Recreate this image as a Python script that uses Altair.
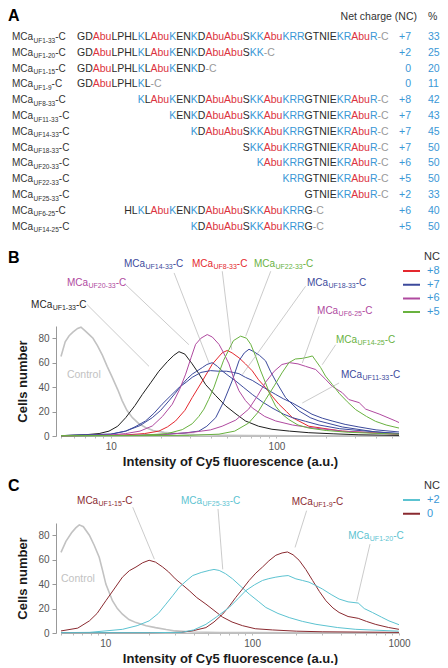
import math
import altair as alt
import pandas as pd

FONT = "Liberation Sans"

# ---------------- Panel A data ----------------
RESIDUES = ["G", "D", "Abu", "L", "P", "H", "L", "K", "L", "Abu", "K", "E", "N", "K", "D",
            "Abu", "Abu", "S", "K", "K", "Abu", "K", "R", "R", "G", "T", "N", "I", "E", "K",
            "R", "Abu", "R"]
PEPTIDES = ["UF1-33", "UF1-20", "UF1-15", "UF1-9", "UF8-33", "UF11-33", "UF14-33", "UF18-33",
            "UF20-33", "UF22-33", "UF25-33", "UF6-25", "UF14-25"]
STARTS = [1, 1, 1, 1, 8, 11, 14, 18, 20, 22, 25, 6, 14]
ENDS = [33, 20, 15, 9, 33, 33, 33, 33, 33, 33, 33, 25, 25]
NET_CHARGE = ["+7", "+2", "0", "0", "+8", "+7", "+7", "+7", "+6", "+5", "+2", "+6", "+5"]
PERCENT = ["33", "25", "20", "11", "42", "43", "45", "50", "50", "50", "33", "40", "50"]

# ---------------- Panel B curves ----------------
B_CONTROL_X = [5.0, 5.3, 5.6, 5.9, 6.3, 6.6, 7.0, 7.4, 7.8, 8.3, 8.9, 9.5, 10.2, 11.0, 11.7, 12.5,
               13.5, 14.8, 16.2, 18, 21, 25, 32, 45, 70, 120, 250, 550]
B_CONTROL_Y = [65, 77, 82, 85, 88, 89, 86, 83, 80, 74, 66, 57, 48, 38, 29, 21, 15, 10, 7, 4.5, 3,
               2, 1.2, 0.6, 0.3, 0.2, 0.1, 0.1]
B_UF1_33_X = [5, 7, 8.5, 9.75, 11, 12.3, 14, 15.5, 17.5, 19.5, 22, 24, 25.8, 28, 31, 34, 37.4, 43,
              49.4, 57, 65, 78, 94, 120, 157, 220, 315, 550]
B_UF1_33_Y = [0.3, 1, 2, 4, 8, 15, 25, 34, 44, 53, 61, 66, 69, 67, 59, 51, 42, 33, 24.6, 18, 12.3,
              8, 5.5, 4, 2.7, 1.8, 1, 0.5]
B_UF20_33_X = [5, 10, 12.3, 15, 17.8, 20.5, 23.5, 26, 28.3, 30.5, 32.5, 35, 38.2, 41, 45, 48, 51.7,
               55, 59.4, 65, 71.5, 85, 99, 125, 157, 250, 550]
B_UF20_33_Y = [0.2, 0.8, 2, 4, 8.2, 16, 26, 38, 50.6, 64, 75, 80, 83, 81, 75, 68, 59, 48, 37, 29,
               23, 16, 12.3, 9, 7, 4, 1.3]
B_UF8_33_X = [5, 12, 16, 19.5, 22, 24.6, 28, 31, 35.7, 41, 47, 50.5, 54, 59.4, 65, 71.5, 78, 86,
              95, 103.5, 115, 125, 157, 250, 550]
B_UF8_33_Y = [0.2, 0.8, 2, 4, 7.5, 12.3, 21, 31.4, 45, 58.8, 68, 70, 68, 64, 59, 53.3, 46, 39.6,
              32, 26, 20, 15, 8, 4, 1.5]
B_UF18_33_X = [5, 15, 22, 28, 34, 38, 43, 48, 54, 59.4, 64, 68.3, 73, 79, 86, 92, 99, 113.6, 137,
               160, 180.7, 250, 397, 550]
B_UF18_33_Y = [0.2, 0.5, 1.5, 2.5, 4, 8, 15, 28, 45, 61.5, 68, 71, 69, 66, 61.5, 53, 45, 31.4,
               20.5, 15, 12.3, 7.4, 3.3, 2]
B_UF14_33_X = [5, 10, 12.3, 15, 17.8, 20, 22.4, 24.5, 27, 29, 31, 33, 35.7, 38, 41, 44, 47, 51.7,
               56.8, 63, 71.5, 82, 94, 110, 125, 150, 181, 240, 315, 550]
B_UF14_33_Y = [0.3, 1.5, 4, 8.5, 15, 21, 28.7, 35, 42.4, 47, 50.6, 53, 56, 58.5, 60, 57, 53.3, 49,
               45, 40, 34, 28, 23, 18, 15, 12, 9, 6, 4.5, 2]
B_UF11_33_X = [5, 10, 12.3, 14, 16.2, 18.2, 20.4, 23, 25.8, 28.5, 31, 35, 40, 45, 50, 55, 59.4, 65,
               71.5, 78.7, 88, 99, 110, 125, 143, 164, 190, 217, 260, 315, 400, 550]
B_UF11_33_Y = [0.3, 1.5, 4, 7.5, 12.3, 18.5, 26, 33, 39.6, 44, 48, 52, 53.5, 53, 53, 52, 51, 48,
               45.5, 42, 38, 34, 30.5, 27, 22.5, 17.8, 14.5, 12.3, 9.5, 7.4, 5, 3.3]
B_UF6_25_X = [5, 20, 31, 40, 47, 56.8, 68, 77, 86, 97, 108, 120, 135, 150, 172.6, 198, 217, 250,
              274, 316, 346, 417, 525, 550]
B_UF6_25_Y = [0.1, 1, 3, 5, 8, 13, 22, 33, 44, 53, 58.5, 60, 59, 57, 54.4, 46.4, 40.7, 35.4, 29.8,
              27.3, 22, 18, 12.3, 11]
B_UF22_33_X = [5, 15, 22, 27, 31, 34, 36.5, 39, 42, 45, 48, 51.7, 55, 60.8, 66, 70, 75, 80, 86, 92,
               99, 108, 119, 135, 157, 200, 274, 550]
B_UF22_33_Y = [0.2, 0.5, 2, 5.2, 10, 16, 22, 30, 40, 51.6, 62, 70.8, 78, 81.7, 80, 75, 65, 54,
               43.4, 33, 24.3, 18, 13.4, 9, 6.5, 4.5, 3, 1.5]
B_UF14_25_X = [5, 30, 45, 56, 68, 77, 86, 97, 108, 119, 130, 143, 155, 165, 172, 185, 198, 218, 239,
               268, 301, 350, 397, 460, 550]
B_UF14_25_Y = [0.1, 0.5, 1.5, 4, 10.6, 19, 29.8, 41, 51.6, 60, 63, 63.5, 64.5, 65.5, 62, 56, 49,
               42, 35, 28, 21.6, 16, 12, 9, 6.5]

B_SERIES = ["Control", "UF1-33", "UF8-33", "UF11-33", "UF14-33", "UF18-33", "UF20-33", "UF6-25",
            "UF22-33", "UF14-25"]
B_GROUPS = ["control", "black", "+8", "+7", "+7", "+7", "+6", "+6", "+5", "+5"]
B_XS = [B_CONTROL_X, B_UF1_33_X, B_UF8_33_X, B_UF11_33_X, B_UF14_33_X, B_UF18_33_X, B_UF20_33_X,
        B_UF6_25_X, B_UF22_33_X, B_UF14_25_X]
B_YS = [B_CONTROL_Y, B_UF1_33_Y, B_UF8_33_Y, B_UF11_33_Y, B_UF14_33_Y, B_UF18_33_Y, B_UF20_33_Y,
        B_UF6_25_Y, B_UF22_33_Y, B_UF14_25_Y]

# annotation anchors (data units) for panel B
B_LAB_NAMES = ["UF14-33", "UF8-33", "UF22-33", "UF20-33", "UF18-33", "UF1-33", "UF6-25",
               "UF14-25", "UF11-33", "Control"]
B_LAB_GROUPS = ["+7", "+8", "+5", "+6", "+7", "black", "+6", "+5", "+7", "control"]
B_LAB_X = [12.0, 30.9, 73.2, 5.43, 153, 3.30, 176, 229, 245.5, 5.43]
B_LAB_Y = [141, 141, 141, 125.2, 125.2, 107.4, 102, 78.8, 50.2, 50.2]
B_LEAD_X1 = [24.1, 47.1, 92.4, 12.3, 150, 7.2, 180.8, 228, 239]
B_LEAD_Y1 = [133.4, 134.8, 134.8, 123.8, 122.5, 107.4, 97.9, 74.7, 43.4]
B_LEAD_X2 = [39.2, 53.7, 65.2, 29.6, 62.2, 17.0, 143.3, 189, 143.3]
B_LEAD_Y2 = [59.7, 70.6, 81.6, 74.7, 50.2, 57, 59.7, 58.3, 27]

# ---------------- Panel C curves ----------------
C_CONTROL_X = [5, 5.4, 5.9, 6.3, 6.66, 7.1, 7.8, 8.4, 9.1, 9.6, 10.1, 11.2, 12.1, 13.1, 14.5, 16.2,
               19, 22, 26, 30, 40, 60, 100, 200, 1000]
C_CONTROL_Y = [66, 75, 82, 86, 88.5, 87, 80, 72, 62, 51, 40, 26.4, 20, 15.4, 11, 8.5, 6, 4.4, 2.8,
               1.7, 0.8, 0.4, 0.3, 0.2, 0.1]
C_UF1_15_X = [5, 6.5, 7.8, 8.8, 10.1, 11.5, 13.1, 14.6, 16.2, 18, 19.9, 22, 24.6, 27, 30, 33.5,
              37.3, 42, 48.5, 55, 63, 73, 86, 105, 138, 200, 300, 1000]
C_UF1_15_Y = [1.7, 4, 9.9, 16, 26.4, 36, 45.7, 51, 54, 57.5, 59.5, 58, 54, 50, 44.3, 39.5, 34.7,
              29, 23.6, 18.5, 13, 9, 6, 3.5, 2.5, 1.5, 1, 0.5]
C_UF25_33_X = [5, 7.8, 13.1, 16.5, 19.9, 23, 25.9, 28.8, 31.9, 35.5, 39.4, 45, 51, 55, 59.7, 66,
               73.6, 84, 95.5, 110, 124, 150, 179, 220, 272, 380, 508, 995]
C_UF25_33_Y = [0.3, 0.5, 3, 6, 9.9, 16, 23.6, 30.5, 37.4, 42.5, 47, 49.5, 51.2, 52, 51.2, 48.5,
               44.3, 38, 31.9, 26, 20.9, 16, 12.6, 9.5, 7.1, 4.5, 3, 1.5]
C_UF1_9_X = [5, 20, 33, 40, 48.5, 55, 63, 70, 77.5, 86, 95.5, 106, 117.8, 130, 145, 160, 174, 190,
             209, 232, 258, 287, 318, 355, 391, 450, 528, 600, 695, 850, 1000]
C_UF1_9_Y = [0.3, 0.3, 0.5, 2, 4.4, 9, 15.4, 22, 29.2, 36, 43, 49, 54, 59, 63.6, 65.5, 66.3, 64,
             59.5, 52, 43, 34, 26.4, 20.5, 16.8, 13.5, 12, 9.5, 7, 4.5, 3]
C_UF1_20_X = [5, 20, 33, 40, 48.5, 57, 69.8, 80, 90.7, 104, 117.8, 130, 145, 160, 176, 198.6, 220,
              244, 270, 301, 345, 391, 450, 528, 580, 659, 760, 855, 1000]
C_UF1_20_Y = [0.3, 0.3, 0.5, 2.5, 7.1, 13, 20.9, 28, 34.7, 39.5, 43, 44.5, 45.7, 46.5, 47, 44.3,
              43, 41.6, 39, 36, 31.5, 27.8, 25.5, 24.5, 20, 16.8, 13, 9.9, 6.8]

C_SERIES = ["Control", "UF1-15", "UF25-33", "UF1-9", "UF1-20"]
C_GROUPS = ["control", "0", "+2", "0", "+2"]
C_XS = [C_CONTROL_X, C_UF1_15_X, C_UF25_33_X, C_UF1_9_X, C_UF1_20_X]
C_YS = [C_CONTROL_Y, C_UF1_15_Y, C_UF25_33_Y, C_UF1_9_Y, C_UF1_20_Y]

C_LAB_NAMES = ["UF1-15", "UF25-33", "UF1-9", "UF1-20", "Control"]
C_LAB_GROUPS = ["0", "+2", "0", "+2", "control"]
C_LAB_X = [6.43, 32.8, 186, 451.6, 5.0]
C_LAB_Y = [108.4, 108.4, 107.5, 79, 44.5]
C_LEAD_X1 = [15.4, 58.6, 235, 634.6]
C_LEAD_Y1 = [102.9, 101.5, 100.1, 72.7]
C_LEAD_X2 = [21.6, 63.1, 196, 515]
C_LEAD_Y2 = [60.4, 52.1, 70, 26]

# ---------------- styling / layout ----------------
ADV = {"G": 778, "D": 722, "A": 667, "b": 556, "u": 556, "L": 556, "P": 667, "H": 722, "K": 667,
       "E": 667, "N": 722, "S": 667, "R": 722, "T": 611, "I": 278, "-": 333, "C": 722, "M": 833,
       "a": 556, "U": 722, "F": 611}
for d in "0123456789":
    ADV[d] = 556


def tw(s, fs):
    return sum(ADV[c] for c in s) * fs / 1000.0


RED_T, BLUE_T, DARK_T, GRAY_T = "#dc3340", "#3a97d6", "#2b2b2b", "#9a9a9a"
PW = 338
SEQ_FS, LAB_FS, SUB_FS_A, SUB_FS_B = 10.5, 10.0, 6.5, 7.0
SEQ_X0, LAB_X0 = 16.0, -49.0
ROW_Y0, ROW_DY = 24.0, 15.8

# ---------------- Panel A ----------------
cum = [0.0]
for r in RESIDUES:
    cum.append(cum[-1] + tw(r, SEQ_FS))

tok_rows = []
for i, (s, e) in enumerate(zip(STARTS, ENDS)):
    for j in range(s - 1, e):
        r = RESIDUES[j]
        col = RED_T if r == "Abu" else (BLUE_T if r in ("K", "R") else DARK_T)
        tok_rows.append(dict(row=i, x=SEQ_X0 + cum[j], text=r, col=col))
    tok_rows.append(dict(row=i, x=SEQ_X0 + cum[e], text="-C", col=GRAY_T))
tok_df = pd.DataFrame(tok_rows)

labA_rows = []
for i, p in enumerate(PEPTIDES):
    w1 = tw("MCa", LAB_FS) + 0.4
    w2 = tw(p, SUB_FS_A)
    labA_rows.append(dict(row=i, x=LAB_X0, text="MCa", kind="main"))
    labA_rows.append(dict(row=i, x=LAB_X0 + w1, text=p, kind="sub"))
    labA_rows.append(dict(row=i, x=LAB_X0 + w1 + w2, text="-C", kind="main"))
labA_df = pd.DataFrame(labA_rows)
nc_df = pd.DataFrame({"row": list(range(len(PEPTIDES))), "nc": NET_CHARGE, "pct": PERCENT})

xA = alt.Scale(domain=[0, PW], nice=False, zero=False)
yA = alt.Scale(domain=[0, 12], range=[ROW_Y0, ROW_Y0 + 12 * ROW_DY], nice=False, zero=False)
XA = alt.X("x:Q", scale=xA, axis=None)
YA = alt.Y("row:Q", scale=yA, axis=None)

a_seq = alt.Chart(tok_df).mark_text(align="left", baseline="middle", font=FONT,
                                    fontSize=SEQ_FS).encode(
    x=XA, y=YA, text="text:N", color=alt.Color("col:N", scale=None))
a_lab = alt.Chart(labA_df).transform_filter("datum.kind == 'main'").mark_text(
    align="left", baseline="middle", font=FONT, fontSize=LAB_FS, color="#333333").encode(
    x=XA, y=YA, text="text:N")
a_sub = alt.Chart(labA_df).transform_filter("datum.kind == 'sub'").mark_text(
    align="left", baseline="middle", font=FONT, fontSize=SUB_FS_A, dy=3.5,
    color="#333333").encode(x=XA, y=YA, text="text:N")
a_nc = alt.Chart(nc_df).mark_text(align="right", baseline="middle", font=FONT, fontSize=10.5,
                                  color=BLUE_T).encode(x=alt.value(350), y=YA, text="nc:N")
a_pct = alt.Chart(nc_df).mark_text(align="left", baseline="middle", font=FONT, fontSize=10.5,
                                   color=BLUE_T).encode(x=alt.value(367), y=YA, text="pct:N")
hdr_df = pd.DataFrame({"t": ["Net charge (NC)"], "p": ["%"], "L": ["A"]})
a_hdr = alt.Chart(hdr_df).mark_text(align="right", baseline="middle", font=FONT, fontSize=10.5,
                                    color="#333333").encode(x=alt.value(356), y=alt.value(4),
                                                            text="t:N")
a_hdr2 = alt.Chart(hdr_df).mark_text(align="left", baseline="middle", font=FONT, fontSize=10.5,
                                     color="#333333").encode(x=alt.value(367), y=alt.value(4),
                                                             text="p:N")
a_letter = alt.Chart(hdr_df).mark_text(align="left", baseline="middle", font=FONT, fontSize=16,
                                       fontWeight="bold", color="#000000").encode(
    x=alt.value(-53), y=alt.value(3), text="L:N")

panel_a = alt.layer(a_seq, a_lab, a_sub, a_nc, a_pct, a_hdr, a_hdr2, a_letter).properties(
    width=PW, height=226)


# ---------------- helpers for B and C ----------------
def curve_df(names, groups, xs, ys):
    rows = []
    for n, g, xl, yl in zip(names, groups, xs, ys):
        for x, y in zip(xl, yl):
            rows.append(dict(series=n, group=g, x=x, y=y))
    return pd.DataFrame(rows)


def label_df(names, groups, xs, ys, xmax):
    # text pieces placed along the log axis: pixel advance -> factor in data units
    px_per_decade = PW / math.log10(xmax / 5.0)
    rows = []
    for n, g, x, y in zip(names, groups, xs, ys):
        if n == "Control":
            rows.append(dict(text="Control", group=g, x=x, y=y, kind="ctrl"))
        else:
            w1 = tw("MCa", LAB_FS) + 0.4
            w2 = tw(n, SUB_FS_B)
            rows.append(dict(text="MCa", group=g, x=x, y=y, kind="main"))
            rows.append(dict(text=n, group=g, x=x * 10 ** (w1 / px_per_decade), y=y, kind="sub"))
            rows.append(dict(text="-C", group=g, x=x * 10 ** ((w1 + w2) / px_per_decade), y=y,
                             kind="main"))
    return pd.DataFrame(rows)


def panel(curves, labels, leads, xmax, xticks, color_scale, legend, letter, letter_y):
    xs = alt.Scale(type="log", domain=[5, xmax], nice=False)
    ys = alt.Scale(domain=[0, 90], nice=False)
    xaxis = alt.Axis(values=xticks,
                     labelExpr="(datum.value == 10 || datum.value == 100 || datum.value == 1000) ? '' + datum.value : ''",
                     title="Intensity of Cy5 fluorescence (a.u.)", titleFont=FONT, titleFontSize=13,
                     titleFontWeight="bold", titleColor="#1a1a1a", titlePadding=4,
                     labelFont=FONT, labelFontSize=10, labelColor="#555555", labelPadding=3,
                     labelOverlap=False, labelFlush=False, tickSize=2, tickColor="#bbbbbb",
                     domainColor="#bbbbbb", grid=False)
    yaxis = alt.Axis(values=[0, 20, 40, 60, 80], title="Cells number", titleFont=FONT,
                     titleFontSize=13, titleFontWeight="bold", titleColor="#1a1a1a",
                     titlePadding=8, labelFont=FONT, labelFontSize=10, labelColor="#555555",
                     labelPadding=3, tickSize=4, tickColor="#999999", domainColor="#999999",
                     offset=5, grid=False)
    X = alt.X("x:Q", scale=xs, axis=xaxis)
    Y = alt.Y("y:Q", scale=ys, axis=yaxis)
    COL = alt.Color("group:N", scale=color_scale, legend=legend)

    ctrl = alt.Chart(curves).transform_filter("datum.group == 'control'").mark_line(
        strokeWidth=1.6).encode(x=X, y=Y, color=COL, detail="series:N")
    lines = alt.Chart(curves).transform_filter("datum.group != 'control'").mark_line(
        strokeWidth=1.0).encode(x=X, y=Y, color=COL, detail="series:N")
    rules = alt.Chart(leads).mark_rule(color="#a8a8a8", strokeWidth=0.6).encode(
        x=X, y=Y, x2="x2:Q", y2="y2:Q")
    t_main = alt.Chart(labels).transform_filter("datum.kind == 'main'").mark_text(
        align="left", baseline="middle", font=FONT, fontSize=LAB_FS).encode(
        x=X, y=Y, text="text:N", color=COL)
    t_sub = alt.Chart(labels).transform_filter("datum.kind == 'sub'").mark_text(
        align="left", baseline="middle", font=FONT, fontSize=SUB_FS_B, dy=3).encode(
        x=X, y=Y, text="text:N", color=COL)
    t_ctrl = alt.Chart(labels).transform_filter("datum.kind == 'ctrl'").mark_text(
        align="left", baseline="middle", font=FONT, fontSize=10.5).encode(
        x=X, y=Y, text="text:N", color=COL)
    let = alt.Chart(pd.DataFrame({"L": [letter]})).mark_text(
        align="left", baseline="middle", font=FONT, fontSize=16, fontWeight="bold",
        color="#000000").encode(x=alt.value(-53), y=alt.value(letter_y), text="L:N")
    return alt.layer(ctrl, lines, rules, t_main, t_sub, t_ctrl, let).properties(
        width=PW, height=110)


def legend_for(values, ly):
    return alt.Legend(title="NC", orient="none", legendX=341, legendY=ly, values=values,
                      symbolType="stroke", symbolSize=289, symbolStrokeWidth=2, clipHeight=12,
                      rowPadding=1.7, labelFont=FONT, labelFontSize=11, labelColor=BLUE_T,
                      labelOffset=6, titleFont=FONT, titleFontSize=11, titleFontWeight="normal",
                      titleColor="#333333", titleAnchor="end", titlePadding=3)


b_curves = curve_df(B_SERIES, B_GROUPS, B_XS, B_YS)
b_labels = label_df(B_LAB_NAMES, B_LAB_GROUPS, B_LAB_X, B_LAB_Y, 550)
b_leads = pd.DataFrame({"x": B_LEAD_X1, "y": B_LEAD_Y1, "x2": B_LEAD_X2, "y2": B_LEAD_Y2})
b_color = alt.Scale(domain=["+8", "+7", "+6", "+5", "black", "control"],
                    range=["#e4282e", "#3c4a9c", "#b04aa0", "#69b23f", "#1e1e1e", "#c2c2c2"])
B_TICKS = [5, 6, 7, 8, 9, 10, 20, 30, 40, 50, 60, 70, 80, 90, 100, 200, 300, 400, 500]
panel_b = panel(b_curves, b_labels, b_leads, 550, B_TICKS, b_color,
                legend_for(["+8", "+7", "+6", "+5"], -75), "B", -68)

c_curves = curve_df(C_SERIES, C_GROUPS, C_XS, C_YS)
c_labels = label_df(C_LAB_NAMES, C_LAB_GROUPS, C_LAB_X, C_LAB_Y, 1000)
c_leads = pd.DataFrame({"x": C_LEAD_X1, "y": C_LEAD_Y1, "x2": C_LEAD_X2, "y2": C_LEAD_Y2})
c_color = alt.Scale(domain=["+2", "0", "control"], range=["#5cc3d1", "#8a2a30", "#c2c2c2"])
C_TICKS = [5, 6, 7, 8, 9, 10, 20, 30, 40, 50, 60, 70, 80, 90, 100, 200, 300, 400, 500, 600, 700,
           800, 900, 1000]
panel_c = panel(c_curves, c_labels, c_leads, 1000, C_TICKS, c_color,
                legend_for(["+2", "0"], -43), "C", -37)

chart = alt.vconcat(panel_a, panel_b, panel_c, spacing=87, bounds="flush").resolve_scale(
    color="independent").resolve_legend(color="independent").properties(
    padding={"left": 0, "top": 0, "right": 0, "bottom": 0}
).configure_view(stroke=None)

chart.save("out.html", embed_options={"renderer": "svg", "actions": False})
